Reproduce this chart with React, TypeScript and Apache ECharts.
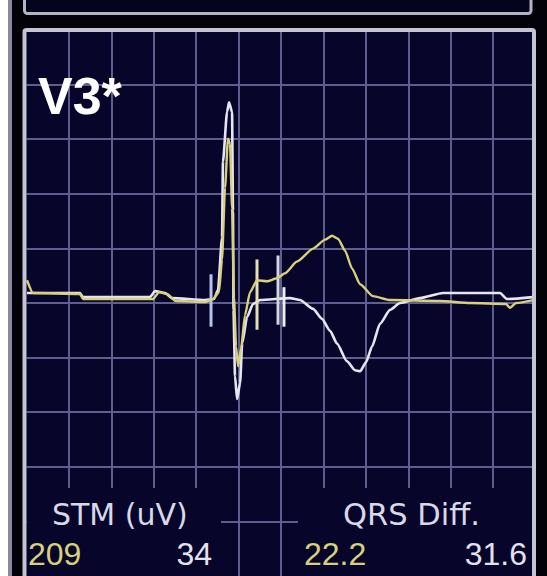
import React, { useEffect, useRef } from "react";
import * as echarts from "echarts";

// ---- data (time in ms, amplitude in mV) ----
const leadName = "V3*";

const currentBeatT = [0.6, 63.1, 66.6, 145.6, 151.5, 163.3, 171.5, 210.4, 221.0, 225.7, 230.5, 231.6, 236.4, 238.7, 242.3, 243.4, 244.0, 245.8, 248.2, 251.8, 254.2, 260.0, 267.0, 275.3, 310.6, 322.4, 337.8, 348.3, 357.8, 366.0, 377.8, 387.3, 393.2, 400.2, 407.3, 416.7, 428.5, 440.3, 463.9, 491.0, 558.2, 566.5, 597.1];
const currentBeatMv = [0.091, 0.091, 0.054, 0.054, 0.109, 0.091, 0.045, 0.027, 0.036, 0.118, 0.598, 1.295, 1.748, 1.839, 1.748, 0.842, -0.063, -0.67, -0.879, -0.734, -0.371, -0.127, -0.009, 0.027, 0.045, 0.027, -0.054, -0.145, -0.254, -0.371, -0.534, -0.616, -0.625, -0.543, -0.399, -0.19, -0.063, 0, 0.045, 0.091, 0.091, 0.036, 0.054];

const referenceBeatT = [0.6, 7.7, 63.1, 66.6, 149.1, 156.2, 165.6, 176.2, 210.4, 219.8, 226.9, 230.5, 234.0, 237.5, 239.9, 242.3, 244.6, 247.0, 249.4, 252.9, 257.6, 263.5, 271.7, 283.5, 295.3, 304.7, 318.9, 337.8, 351.9, 360.2, 367.2, 375.5, 383.7, 393.2, 408.5, 428.5, 487.5, 522.8, 565.3, 570.0, 577.0, 597.1];
const referenceBeatMv = [0.208, 0.091, 0.082, 0.036, 0.036, 0.1, 0.082, 0.018, 0.009, 0.036, 0.1, 0.399, 1.051, 1.504, 1.458, 0.87, 0.054, -0.399, -0.58, -0.417, -0.109, 0.1, 0.208, 0.199, 0.226, 0.272, 0.38, 0.498, 0.58, 0.616, 0.589, 0.48, 0.317, 0.172, 0.063, 0.027, 0.018, 0, -0.009, -0.045, 0, 0.027];

const markerT = [217.5, 271.7, 296.5, 303.5];
const markerTopMv = [0.263, 0.399, 0.435, 0.145];
const markerBottomMv = [-0.217, -0.245, -0.199, -0.217];

const labelTitles = ["STM (uV)", "QRS Diff."];
const stmValues = ["209", "34"];
const qrsDiffValues = ["22.2", "31.6"];

// ---- styles ----
const BG = "#07062a";
const GRID = "#5e5e90";
const WHITE = "#e6e6f2";
const YELLOW = "#d8d07a";
const markerColors = ["#b8c2ee", "#e2e0b4", "#d6d6e2", "#ececf4"];
const FONT = "'Liberation Sans', Arial, sans-serif";
const TITLE_FONT = "'DejaVu Sans', Verdana, sans-serif";

export default function App() {
  const ref = useRef<HTMLDivElement>(null);

  useEffect(() => {
    if (!ref.current) return;
    const chart = echarts.init(ref.current, undefined, { renderer: "svg" });

    const zip = (t: number[], v: number[]) => t.map((x, i) => [x, v[i]]);

    const markerSeries = markerT.map((t, i) => ({
      type: "line",
      data: [
        [t, markerTopMv[i]],
        [t, markerBottomMv[i]],
      ],
      showSymbol: false,
      silent: true,
      lineStyle: { color: markerColors[i], width: 3 },
      z: 4,
    }));

    const text = (
      content: string,
      x: number,
      y: number,
      fill: string,
      font: string,
      align: string
    ) => ({
      type: "text",
      z: 11,
      x,
      y,
      style: {
        text: content,
        fill,
        font,
        textAlign: align,
        textVerticalAlign: "middle",
      },
    });

    const option: any = {
      animation: false,
      backgroundColor: "transparent",
      grid: {
        left: 26.5,
        top: 30,
        width: 509,
        height: 552,
        show: true,
        backgroundColor: BG,
        borderWidth: 0,
      },
      xAxis: {
        type: "value",
        min: 0,
        max: 600,
        interval: 50,
        axisLine: { show: false },
        axisTick: { show: false },
        axisLabel: { show: false },
        splitLine: {
          show: true,
          showMinLine: false,
          showMaxLine: false,
          lineStyle: { color: GRID, width: 2 },
        },
      },
      yAxis: {
        type: "value",
        min: -2.5,
        max: 2.5,
        interval: 0.5,
        axisLine: { show: false },
        axisTick: { show: false },
        axisLabel: { show: false },
        splitLine: {
          show: true,
          showMinLine: false,
          showMaxLine: false,
          lineStyle: { color: GRID, width: 2 },
        },
      },
      series: [
        {
          type: "line",
          name: "current",
          data: zip(currentBeatT, currentBeatMv),
          showSymbol: false,
          silent: true,
          smooth: 0.2,
          smoothMonotone: "x",
          lineStyle: { color: WHITE, width: 2.6 },
          z: 3,
        },
        {
          type: "line",
          name: "reference",
          data: zip(referenceBeatT, referenceBeatMv),
          showSymbol: false,
          silent: true,
          smooth: 0.2,
          smoothMonotone: "x",
          lineStyle: { color: YELLOW, width: 2.4 },
          z: 5,
        },
        ...markerSeries,
      ],
      graphic: [
        // upper (previous) panel edge
        {
          type: "rect",
          z: 10,
          shape: { x: 24.5, y: -20, width: 506.5, height: 33.5, r: 3 },
          style: { fill: "#04041c", stroke: "#b4b4c6", lineWidth: 3 },
        },
        // main panel border
        {
          type: "rect",
          z: 10,
          shape: { x: 24.5, y: 30, width: 509.5, height: 600, r: 2 },
          style: { fill: "none", stroke: "#c4c4d4", lineWidth: 4 },
        },
        // label boxes hiding the grid
        {
          type: "rect",
          z: 9,
          shape: { x: 27, y: 488, width: 194, height: 100 },
          style: { fill: BG },
        },
        {
          type: "rect",
          z: 9,
          shape: { x: 298, y: 488, width: 234, height: 100 },
          style: { fill: BG },
        },
        text(leadName, 38, 96, "#ffffff", `bold 52px ${FONT}`, "left"),
        text(labelTitles[0], 52, 514, "#d8d8e6", `30px ${TITLE_FONT}`, "left"),
        text(labelTitles[1], 343, 514, "#d8d8e6", `30.5px ${TITLE_FONT}`, "left"),
        text(stmValues[0], 28, 554, YELLOW, `32px ${FONT}`, "left"),
        text(stmValues[1], 212, 554, "#e2e2ee", `32px ${FONT}`, "right"),
        text(qrsDiffValues[0], 304, 554, YELLOW, `32px ${FONT}`, "left"),
        text(qrsDiffValues[1], 527, 554, "#e2e2ee", `32px ${FONT}`, "right"),
      ],
    };

    chart.setOption(option);
    return () => chart.dispose();
  }, []);

  return (
    <div
      style={{
        position: "absolute",
        left: 0,
        top: 0,
        width: 547,
        height: 576,
        background:
          "linear-gradient(to right, #ffffff 0px, #ffffff 8px, #8a8a9c 8px, #8a8a9c 12px, #020208 12px)",
      }}
    >
      <div ref={ref} style={{ width: 547, height: 576 }} />
    </div>
  );
}
